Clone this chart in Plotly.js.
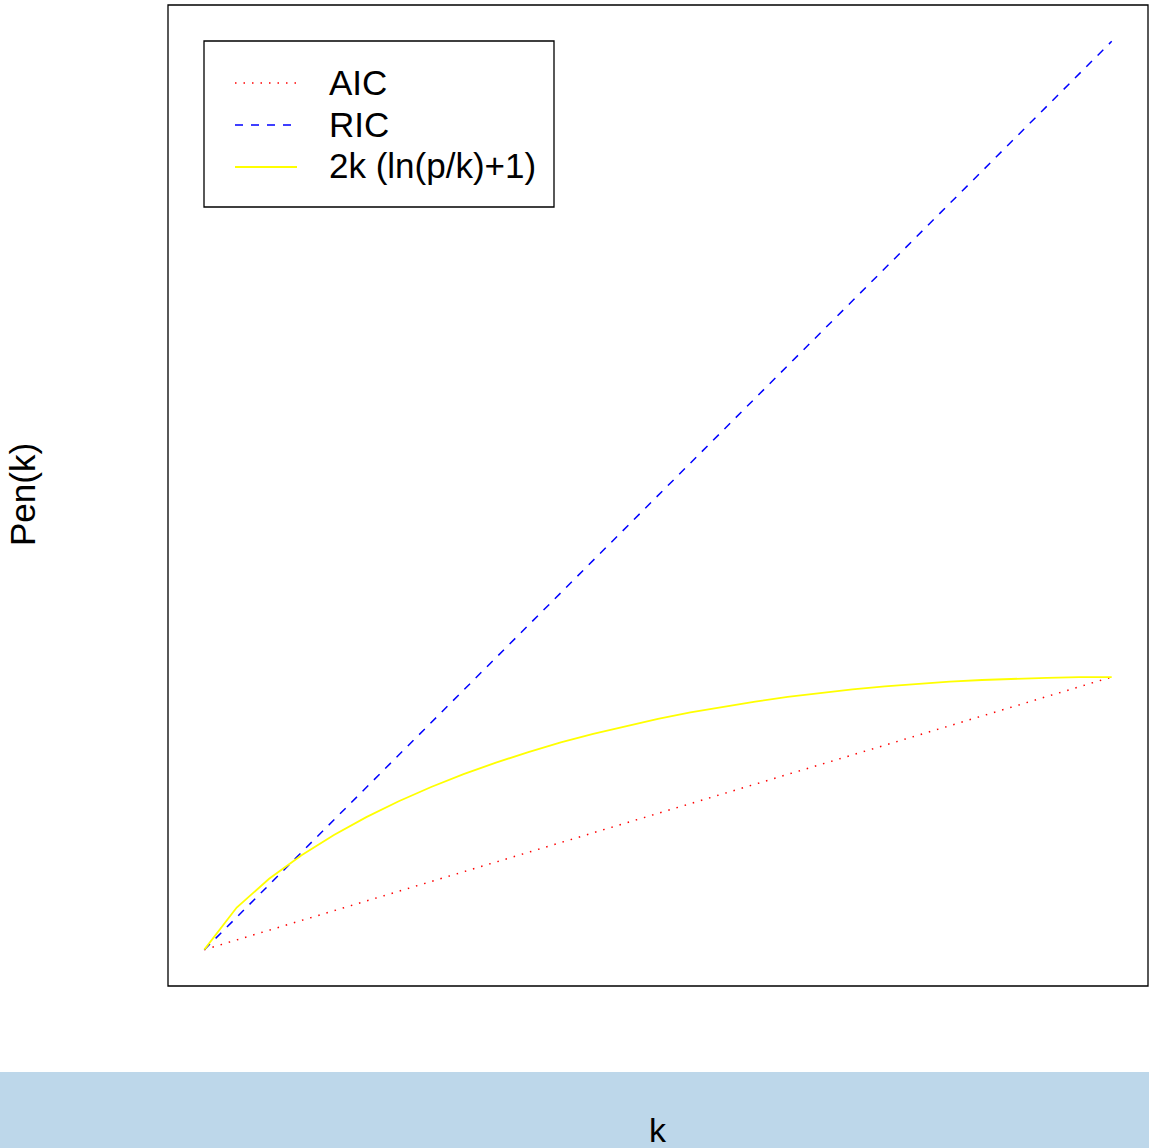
<!DOCTYPE html>
<html>
<head>
<meta charset="utf-8">
<script src="https://cdn.plot.ly/plotly-3.0.1.min.js"></script>
<style>html,body{margin:0;padding:0;background:#fff;}#chart{width:1149px;height:1148px;}</style>
</head>
<body>
<div id="chart"></div>
<script>
// k = 0..28 (p = 28)
const k = [0,1,2,3,4,5,6,7,8,9,10,11,12,13,14,15,16,17,18,19,20,21,22,23,24,25,26,27,28];
const aic = [0,2,4,6,8,10,12,14,16,18,20,22,24,26,28,30,32,34,36,38,40,42,44,46,48,50,52,54,56];
const ric = [0,6.66,13.33,19.99,26.66,33.32,39.98,46.65,53.31,59.98,66.64,73.30,79.97,86.63,93.30,
             99.96,106.62,113.29,119.95,126.62,133.28,139.94,146.61,153.27,159.94,166.60,173.26,179.93,186.59];
const pen = [0,8.66,14.56,19.40,23.57,27.23,30.49,33.41,36.05,38.43,40.59,42.56,44.34,45.95,47.41,
             48.73,49.91,50.97,51.91,52.74,53.46,54.08,54.61,55.05,55.40,55.67,55.85,55.97,56.00];
const seriesNames = ["AIC", "RIC", "2k (ln(p/k)+1)"];
const xLabel = "k";
const yLabel = "Pen(k)";

const FONT = "Liberation Sans, Arial, Helvetica, sans-serif";
const styles = [
  {color: "#ff0000", width: 1.5, dash: "1.5px,7px"},
  {color: "#0000ff", width: 1.5, dash: "8px,8px"},
  {color: "#ffff00", width: 1.8, dash: "solid"}
];
const series = [aic, ric, pen];

const traces = series.map((ys, i) => ({
  x: k, y: ys, name: seriesNames[i], mode: "lines", line: styles[i], showlegend: false
}));

const kMax = k[k.length - 1];
const yMax = Math.max(...ric);

// pixel -> paper helpers (plot area: x 168..1148, y 5..986)
const PX = x => (x - 168) / 980;
const PY = y => (986 - y) / 981;

const shapes = [
  {type: "rect", xref: "paper", yref: "paper", x0: 0, x1: 1, y0: 0, y1: 1, line: {color: "#000", width: 1.3}, fillcolor: "rgba(0,0,0,0)"},
  {type: "rect", xref: "paper", yref: "paper", x0: PX(-2), x1: PX(1152), y0: PY(1072), y1: PY(1152),
   line: {width: 0}, fillcolor: "#bdd7ea", layer: "below"},
  // legend box
  {type: "rect", xref: "paper", yref: "paper", x0: PX(204), x1: PX(554), y0: PY(41), y1: PY(207),
   line: {color: "#000", width: 1.3}, fillcolor: "#ffffff"}
];
const annotations = [
  {text: xLabel, xref: "paper", yref: "paper", x: PX(658), y: PY(1130),
   xanchor: "center", yanchor: "middle", showarrow: false, font: {family: FONT, size: 34, color: "#000"}},
  {text: yLabel, xref: "paper", yref: "paper", x: PX(22), y: PY(495), textangle: -90,
   xanchor: "center", yanchor: "middle", showarrow: false, font: {family: FONT, size: 35, color: "#000"}}
];
const rowY = [83, 125, 167];
seriesNames.forEach((nm, i) => {
  shapes.push({type: "line", xref: "paper", yref: "paper", x0: PX(235), x1: PX(297), y0: PY(rowY[i]), y1: PY(rowY[i]),
               line: styles[i]});
  annotations.push({text: nm, xref: "paper", yref: "paper", x: PX(327), y: PY(rowY[i] - 1),
                    xanchor: "left", yanchor: "middle", showarrow: false, font: {family: FONT, size: 35, color: "#000"}});
});

const layout = {
  width: 1149, height: 1148,
  margin: {l: 168, r: 1, t: 5, b: 162, pad: 0},
  paper_bgcolor: "#ffffff",
  plot_bgcolor: "#ffffff",
  showlegend: false,
  xaxis: {range: [-0.04 * kMax, 1.04 * kMax], showgrid: false, zeroline: false, showticklabels: false, ticks: "", showline: false},
  yaxis: {range: [-0.04 * yMax, 1.04 * yMax], showgrid: false, zeroline: false, showticklabels: false, ticks: "", showline: false},
  shapes: shapes,
  annotations: annotations
};

Plotly.newPlot("chart", traces, layout, {displayModeBar: false, staticPlot: true});
</script>
</body>
</html>
